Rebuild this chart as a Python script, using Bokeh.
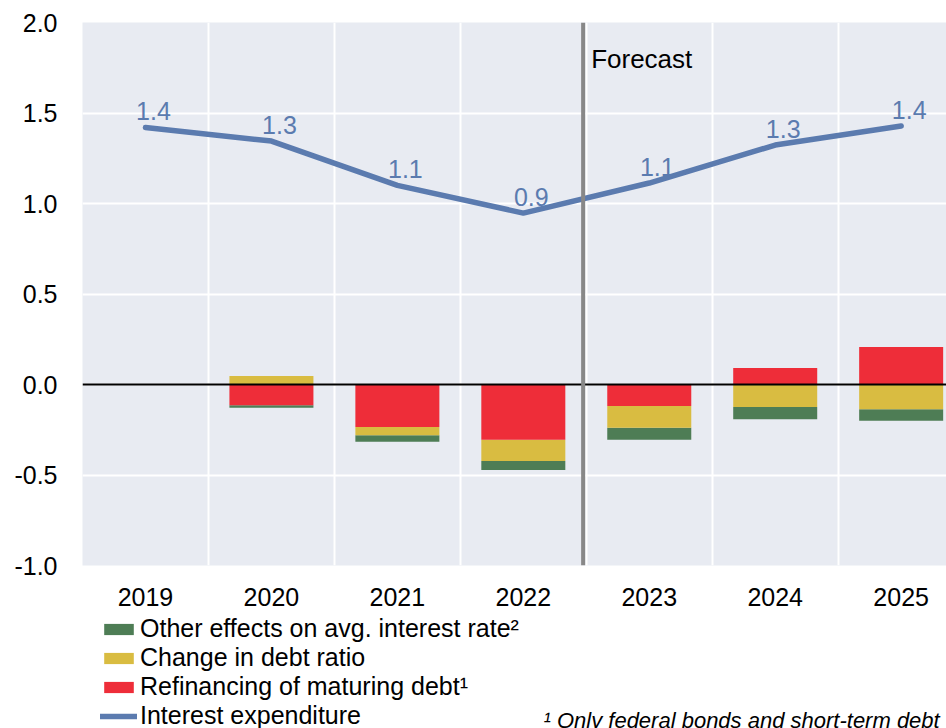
from bokeh.plotting import figure
from bokeh.layouts import column
from bokeh.models import (ColumnDataSource, FixedTicker, Span, Label, LabelSet,
                          Legend, LegendItem, Range1d, NumeralTickFormatter)
from bokeh.core.properties import value
from bokeh.embed import file_html
from bokeh.resources import INLINE

# ---------------- data ----------------
years = ["2019", "2020", "2021", "2022", "2023", "2024", "2025"]
interest_expenditure = [1.42, 1.345, 1.10, 0.947, 1.113, 1.323, 1.428]
interest_labels = ["1.4", "1.3", "1.1", "0.9", "1.1", "1.3", "1.4"]
refinancing = [0.0, -0.115, -0.235, -0.305, -0.119, 0.091, 0.207]
debt_ratio = [0.0, 0.047, -0.046, -0.118, -0.120, -0.124, -0.137]
other_effects = [0.0, -0.013, -0.035, -0.050, -0.066, -0.068, -0.063]
y_ticks = [-1.0, -0.5, 0.0, 0.5, 1.0, 1.5, 2.0]
legend_labels = ["Other effects on avg. interest rate²", "Change in debt ratio",
                 "Refinancing of maturing debt¹", "Interest expenditure"]
footnote = "¹ Only federal bonds and short-term debt"

FONT = "Liberation Sans"
GREEN = "#4E7D55"
YELLOW = "#D9BC41"
RED = "#EE2D39"
BLUE = "#5B7BAF"

n = len(years)
xs = list(range(n))

# stack: red, yellow, green outward from zero (positives up, negatives down)
pos = [0.0] * n
neg = [0.0] * n
stacks = {}
for key, vals in [("ref", refinancing), ("debt", debt_ratio), ("oth", other_effects)]:
    bottoms, tops = [], []
    for i, v in enumerate(vals):
        if v >= 0:
            b = pos[i]; t = b + v; pos[i] = t
        else:
            b = neg[i]; t = b + v; neg[i] = t
        bottoms.append(b); tops.append(t)
    stacks[key] = ColumnDataSource(dict(x=xs, bottom=bottoms, top=tops))

# ---------------- main chart ----------------
p = figure(width=946, height=614,
           x_range=Range1d(-0.5, 6.36), y_range=Range1d(-1.0, 2.0),
           output_backend="svg", toolbar_location=None,
           min_border_left=82, min_border_right=0,
           min_border_top=22, min_border_bottom=49)
p.title.visible = False
p.outline_line_color = None
p.background_fill_color = "#E8EBF2"
p.border_fill_color = "white"

bar_w = 0.667
p.vbar(x="x", bottom="bottom", top="top", width=bar_w, source=stacks["oth"],
       fill_color=GREEN, line_color=None)
p.vbar(x="x", bottom="bottom", top="top", width=bar_w, source=stacks["debt"],
       fill_color=YELLOW, line_color=None)
p.vbar(x="x", bottom="bottom", top="top", width=bar_w, source=stacks["ref"],
       fill_color=RED, line_color=None)

line_src = ColumnDataSource(dict(x=xs, y=interest_expenditure, lbl=interest_labels))
p.line(x="x", y="y", source=line_src, line_color=BLUE, line_width=5.5,
       line_cap="round", line_join="round")
p.add_layout(LabelSet(x="x", y="y", text="lbl", source=line_src,
                      x_offset=8, y_offset=7, text_align="center",
                      text_baseline="bottom", text_color=BLUE,
                      text_font=value(FONT), text_font_size="25px"))

# zero line and forecast divider
p.add_layout(Span(location=0, dimension="width", line_color="black", line_width=2))
p.add_layout(Span(location=3.475, dimension="height", line_color="#888888", line_width=4))
p.add_layout(Label(x=3.475, y=1.8, x_offset=8, text="Forecast", text_baseline="middle",
                   text_font=FONT, text_font_size="26px", text_color="black"))

# axes
p.xaxis.ticker = FixedTicker(ticks=xs)
p.xaxis.major_label_overrides = {i: years[i] for i in xs}
p.yaxis.ticker = FixedTicker(ticks=y_ticks)
p.yaxis.formatter = NumeralTickFormatter(format="0.0")
for ax in (p.xaxis[0], p.yaxis[0]):
    ax.axis_line_color = None
    ax.major_tick_line_color = None
    ax.minor_tick_line_color = None
    ax.major_tick_out = 0
    ax.major_tick_in = 0
    ax.minor_tick_out = 0
    ax.major_label_text_font = FONT
    ax.major_label_text_font_size = "25px"
    ax.major_label_text_color = "black"
p.xaxis.major_label_standoff = 22
p.yaxis.major_label_standoff = 25

p.xgrid.ticker = FixedTicker(ticks=[0.5, 1.5, 2.5, 3.5, 4.5, 5.5])
p.ygrid.ticker = FixedTicker(ticks=y_ticks)
for g in (p.xgrid[0], p.ygrid[0]):
    g.grid_line_color = "white"
    g.grid_line_width = 2

# ---------------- legend + footnote strip ----------------
q = figure(width=946, height=114, x_range=Range1d(0, 946), y_range=Range1d(0, 114),
           output_backend="svg", toolbar_location=None,
           x_axis_location=None, y_axis_location=None,
           min_border=0, min_border_left=0, min_border_right=0,
           min_border_top=0, min_border_bottom=0)
q.title.visible = False
q.grid.visible = False
q.outline_line_color = None
q.background_fill_color = "white"
q.border_fill_color = "white"

# off-range placeholder glyphs that only feed the legend swatches
hidden = dict(x=[-50], bottom=[-50], top=[-49])
g_oth = q.vbar(x="x", bottom="bottom", top="top", width=1, source=ColumnDataSource(hidden),
               fill_color=GREEN, line_color=None)
g_debt = q.vbar(x="x", bottom="bottom", top="top", width=1, source=ColumnDataSource(hidden),
                fill_color=YELLOW, line_color=None)
g_ref = q.vbar(x="x", bottom="bottom", top="top", width=1, source=ColumnDataSource(hidden),
               fill_color=RED, line_color=None)
g_line = q.line(x="x", y="y", source=ColumnDataSource(dict(x=[-50, -49], y=[-50, -50])),
                line_color=BLUE, line_width=5.5, line_cap="round")

# (column layout aligns this strip's frame with the chart frame, which starts 82px in)
legend = Legend(items=[
    LegendItem(label=legend_labels[0], renderers=[g_oth]),
    LegendItem(label=legend_labels[1], renderers=[g_debt]),
    LegendItem(label=legend_labels[2], renderers=[g_ref]),
    LegendItem(label=legend_labels[3], renderers=[g_line]),
], location=(18, -2))
legend.background_fill_alpha = 0
legend.border_line_color = None
legend.padding = 0
legend.margin = 0
legend.spacing = 0
legend.glyph_width = 37
legend.glyph_height = 14
legend.label_height = 29
legend.label_standoff = 3
legend.label_text_font = FONT
legend.label_text_font_size = "25px"
legend.label_text_color = "black"
q.add_layout(legend)

q.add_layout(Label(x=461, y=8, x_units="screen", y_units="screen",
                   text=footnote, text_font=FONT, text_font_size="22px",
                   text_font_style="italic", text_color="black",
                   text_baseline="alphabetic"))

layout = column(p, q, spacing=0)
open("out.html", "w").write(file_html(layout, INLINE))
